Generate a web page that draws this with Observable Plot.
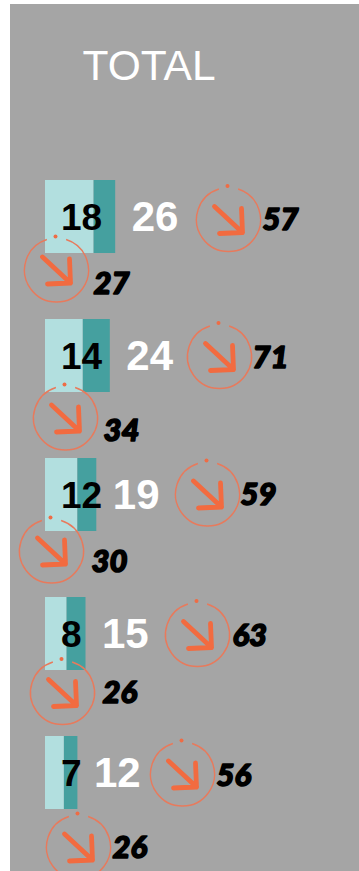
<!DOCTYPE html>
<html>
<head>
<meta charset="utf-8">
<script src="https://cdn.jsdelivr.net/npm/d3@7"></script>
<script src="https://cdn.jsdelivr.net/npm/@observablehq/plot@0.6"></script>
<style>
html,body{margin:0;padding:0;background:#fff;width:359px;height:871px;overflow:hidden}
#panel{position:absolute;left:10px;top:4px;width:349px;height:867px;background:#a5a5a5}
#chart{position:absolute;left:0;top:0}
</style>
</head>
<body>
<div id="panel"></div>
<div id="chart"></div>
<script>
const title = "TOTAL";
const rows = ["r1", "r2", "r3", "r4", "r5"];
const innerValues = [18, 14, 12, 8, 7];
const totalValues = [26, 24, 19, 15, 12];
const upperValues = [57, 71, 59, 63, 56];
const lowerValues = [27, 34, 30, 26, 26];

// Hand placement of the icons and their labels (px, from each row's bar start and centre)
const placement = {
  upperIcon: [[183, 2.5], [174, 0.5], [162, -1], [152, 0.5], [137, 1]],
  upperText: [[217, 3], [207, 2], [195, 0], [187, 2], [171, 3]],
  lowerIcon: [[11, 53], [20, 62], [6, 56], [17, 58.5], [33, 74]],
  lowerText: [[48, 67], [58, 75], [46, 67], [57, 59.5], [67, 75]]
};

const data = rows.map((row, i) => ({
  row, inner: innerValues[i], total: totalValues[i], upper: upperValues[i], lower: lowerValues[i], i
}));

const ring = {draw(c, size) {
  const r = Math.sqrt(size / Math.PI), gap = 17.5 * Math.PI / 180;
  c.moveTo(Math.sin(gap) * r, -Math.cos(gap) * r);
  c.arc(0, 0, r, -Math.PI / 2 + gap, -Math.PI / 2 - gap + 2 * Math.PI);
}};
const tick = {draw(c, size) {
  const r = Math.sqrt(size / Math.PI);
  c.moveTo(-1 + 2, -r - 1.5);
  c.arc(-1, -r - 1.5, 2, 0, 2 * Math.PI);
}};
const arrow = {draw(c, size) {
  const k = Math.sqrt(size / Math.PI) / 32;
  c.moveTo(-14 * k, -13 * k);
  c.lineTo(14 * k, 13 * k);
  c.moveTo(13 * k, -11 * k);
  c.lineTo(14 * k, 13 * k);
  c.lineTo(-9 * k, 14 * k);
}};

const icon = (d, [dx, dy]) => [
  Plot.dot([d], {x: () => 0, y: "row", r: 32, symbol: ring, fill: "none", stroke: "#e87a5c", strokeWidth: 1.4, dx, dy}),
  Plot.dot([d], {x: () => 0, y: "row", r: 32, symbol: tick, fill: "#ee6c45", stroke: "none", dx, dy}),
  Plot.dot([d], {x: () => 0, y: "row", r: 32, symbol: arrow, fill: "none", stroke: "#f26b40", strokeWidth: 4.8, strokeLinecap: "round", strokeLinejoin: "round", dx, dy})
];
const pct = (d, key, [dx, dy]) => Plot.text([d], {
  x: () => 0, y: "row", text: key, dx, dy, textAnchor: "start",
  fontFamily: "Lato", fontWeight: 900, fontStyle: "italic", fontSize: 31, fill: "#000", stroke: "#000", strokeWidth: 1.6
});

const chart = Plot.plot({
  width: 359,
  height: 871,
  margin: 0,
  style: {background: "transparent"},
  x: {axis: null, domain: [-45 / 2.7, 314 / 2.7], range: [0, 359]},
  y: {axis: null, type: "band", round: false, domain: rows, range: [180, 809], paddingInner: 0.4748, paddingOuter: 0},
  marks: [
    Plot.text([title], {
      frameAnchor: "top-left", dx: 82, dy: 66, text: d => d, textAnchor: "start", lineAnchor: "middle",
      fontFamily: "Liberation Sans", fontSize: 42.5, fill: "#fff"
    }),
    Plot.barX(data, {x1: () => 0, x2: "inner", y: "row", fill: "#b2dfdf"}),
    Plot.barX(data, {x1: "inner", x2: "total", y: "row", fill: "#45a09f"}),
    Plot.text(data, {
      x: () => 0, y: "row", text: "inner", dx: 15.5, dy: 1, textAnchor: "start",
      fontFamily: "Liberation Sans", fontWeight: 700, fontSize: 37, fill: "#000"
    }),
    Plot.text(data, {
      x: "total", y: "row", text: "total", dx: 16, dy: 1, textAnchor: "start",
      fontFamily: "Liberation Sans", fontWeight: 700, fontSize: 42, fill: "#fff"
    }),
    ...data.flatMap((d, i) => [
      ...icon(d, placement.upperIcon[i]),
      pct(d, "upper", placement.upperText[i]),
      ...icon(d, placement.lowerIcon[i]),
      pct(d, "lower", placement.lowerText[i])
    ])
  ]
});
document.getElementById("chart").append(chart);
</script>
</body>
</html>
